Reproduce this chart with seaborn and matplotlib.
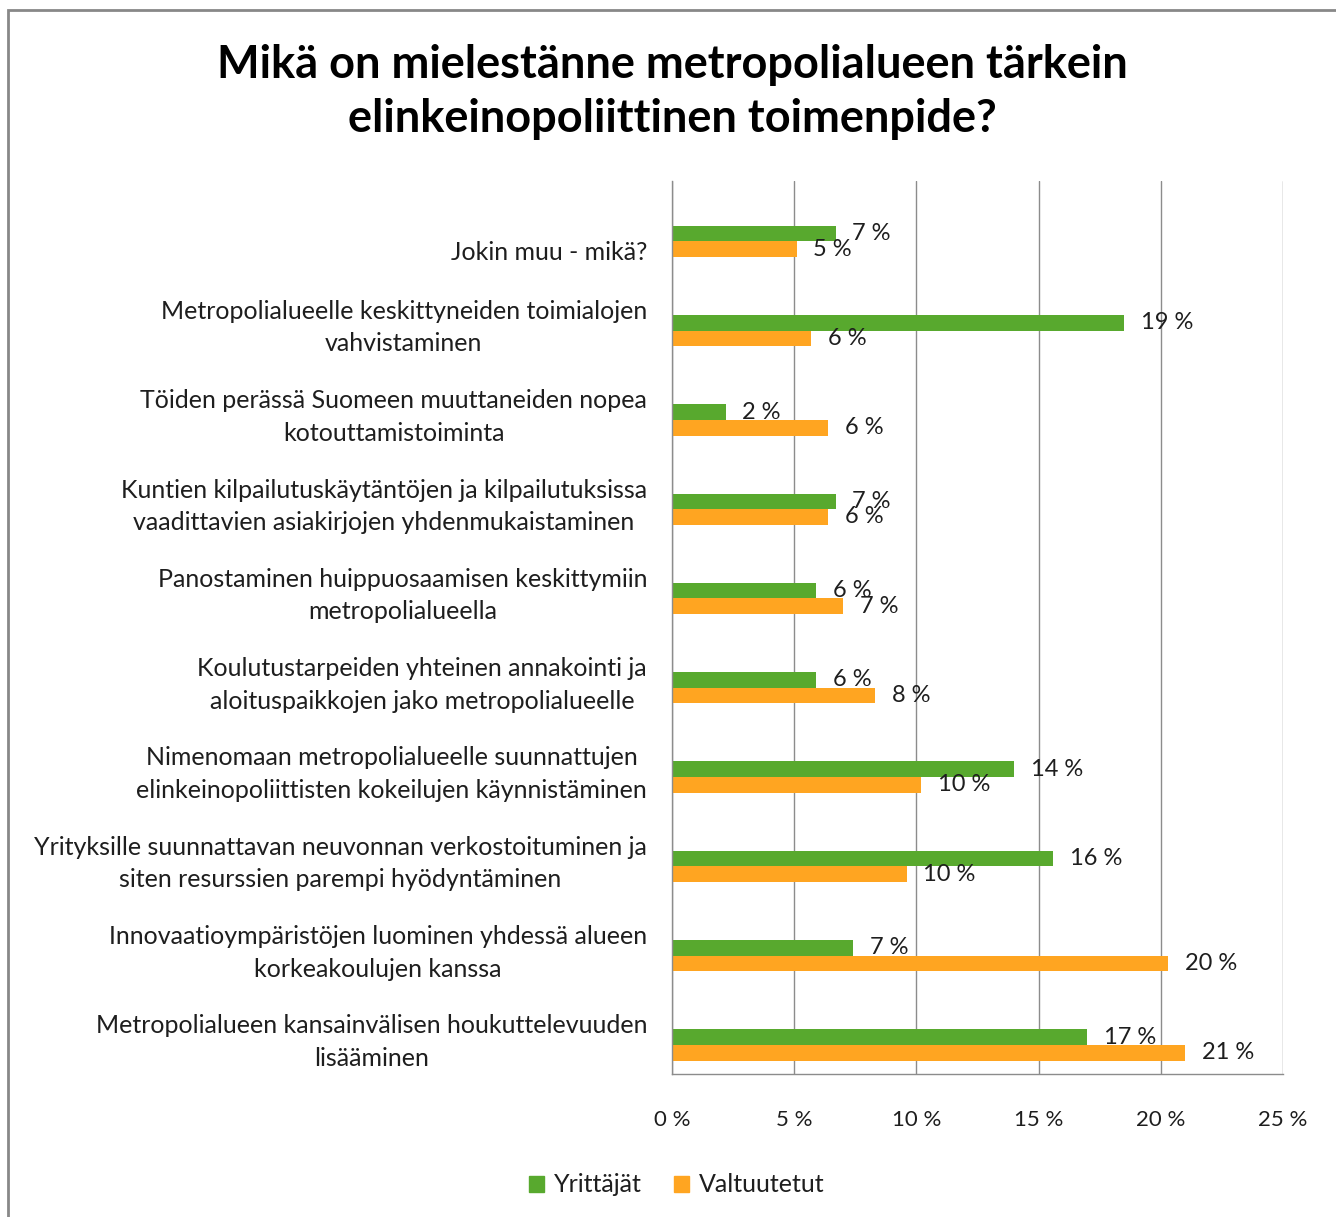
import pandas as pd
import matplotlib.pyplot as plt
import matplotlib.patches as mpatches
import matplotlib.transforms as mtransforms
from matplotlib.container import BarContainer
import seaborn as sns

# data (top to bottom)
categories = [
    "Jokin muu - mikä?",
    "Metropolialueelle keskittyneiden toimialojen\nvahvistaminen",
    "Töiden perässä Suomeen muuttaneiden nopea\nkotouttamistoiminta",
    "Kuntien kilpailutuskäytäntöjen ja kilpailutuksissa\nvaadittavien asiakirjojen yhdenmukaistaminen",
    "Panostaminen huippuosaamisen keskittymiin\nmetropolialueella",
    "Koulutustarpeiden yhteinen annakointi ja\naloituspaikkojen jako metropolialueelle",
    "Nimenomaan metropolialueelle suunnattujen\nelinkeinopoliittisten kokeilujen käynnistäminen",
    "Yrityksille suunnattavan neuvonnan verkostoituminen ja\nsiten resurssien parempi hyödyntäminen",
    "Innovaatioympäristöjen luominen yhdessä alueen\nkorkeakoulujen kanssa",
    "Metropolialueen kansainvälisen houkuttelevuuden\nlisääminen",
]
yrittajat = [6.7, 18.5, 2.2, 6.7, 5.9, 5.9, 14.0, 15.6, 7.4, 17.0]
valtuutetut = [5.1, 5.7, 6.4, 6.4, 7.0, 8.3, 10.2, 9.6, 20.3, 21.0]
yrittajat_labels = [7, 19, 2, 7, 6, 6, 14, 16, 7, 17]
valtuutetut_labels = [5, 6, 6, 6, 7, 8, 10, 10, 20, 21]
x_ticks = [0, 5, 10, 15, 20, 25]

series = ["Yrittäjät", "Valtuutetut"]
colors = {"Yrittäjät": "#58A92E", "Valtuutetut": "#FFA521"}
# the original Excel chart reserves room for two empty series above the bars
hue_order = ["_tyhja1", "_tyhja2"] + series
palette = {"_tyhja1": "white", "_tyhja2": "white", **colors}

df = pd.DataFrame({
    "Toimenpide": categories * 2,
    "Osuus": yrittajat + valtuutetut,
    "Ryhmä": ["Yrittäjät"] * len(categories) + ["Valtuutetut"] * len(categories),
})

sns.set_style("white")
plt.rcParams["font.family"] = ["Lato", "DejaVu Sans"]
text_col = "#1E1E1E"

fig = plt.figure(figsize=(13.36, 12.17), dpi=100)
ax = fig.add_axes([672 / 1336, 1 - 1074 / 1217, (1283 - 672) / 1336, (1074 - 181) / 1217])

sns.barplot(data=df, y="Toimenpide", x="Osuus", hue="Ryhmä", hue_order=hue_order,
            palette=palette, saturation=1, orient="h", width=0.7, linewidth=0,
            legend=False, order=categories, errorbar=None, ax=ax)

ax.set_xlim(0, 25)
ax.set_ylim(len(categories) - 0.5, -0.5)
ax.set_xticks(x_ticks)
ax.set_xticklabels([f"{t} %" for t in x_ticks], fontsize=16, color=text_col)
ax.set_xlabel("")
ax.set_ylabel("")

grid_col = "#8C8C8C"
ax.grid(axis="x", color=grid_col, linewidth=1)
ax.set_axisbelow(True)
for side in ["top", "right"]:
    ax.spines[side].set_visible(False)
for side in ["left", "bottom"]:
    ax.spines[side].set_color(grid_col)
    ax.spines[side].set_linewidth(1)

# y ticks: labels at centers, tick marks at category boundaries
ax.set_yticks(range(len(categories)))
ax.set_yticks([i - 0.5 for i in range(len(categories) + 1)], minor=True)
ax.tick_params(axis="y", which="major", length=0, pad=18)
ax.tick_params(axis="y", which="minor", length=6, color=grid_col, width=1, direction="out")
ax.tick_params(axis="x", which="major", length=6, color=grid_col, width=1, direction="out", pad=20)
ax.set_yticklabels(categories, fontsize=18, color=text_col, ha="right", ma="center",
                   linespacing=1.5)
for lbl in ax.get_yticklabels():
    dy = -25 if "\n" not in lbl.get_text() else -6
    lbl.set_transform(lbl.get_transform() + mtransforms.ScaledTranslation(0, dy / 100, fig.dpi_scale_trans))

# value labels
bar_conts = [c for c in ax.containers if isinstance(c, BarContainer)
             and len(c.patches) == len(categories) and all(p is not None for p in c.patches)]
for cont, labs in zip(bar_conts, [yrittajat_labels, valtuutetut_labels]):
    ax.bar_label(cont, labels=[f"{v} %" for v in labs], padding=12, fontsize=17,
                 color=text_col)

fig.text(672 / 1336, 1 - 92 / 1217,
         "Mikä on mielestänne metropolialueen tärkein\nelinkeinopoliittinen toimenpide?",
         ha="center", va="center", fontsize=32.5, fontweight="bold", linespacing=1.37,
         color="black")

handles = [mpatches.Patch(color=colors[s], label=s) for s in series]
fig.legend(handles=handles, loc="center", bbox_to_anchor=(677 / 1336, 1 - 1185 / 1217),
           ncol=2, frameon=False, fontsize=18, handlelength=0.6, handleheight=0.6,
           handletextpad=0.4, columnspacing=1.3, labelcolor=text_col)

# outer frame of the chart area
fig.patches.append(mpatches.Rectangle((8 / 1336, -0.1), 1.2, 1.1 - 10 / 1217,
                                      transform=fig.transFigure, fill=False,
                                      edgecolor="#888888", linewidth=2))

fig.savefig("out.png", dpi=100)
